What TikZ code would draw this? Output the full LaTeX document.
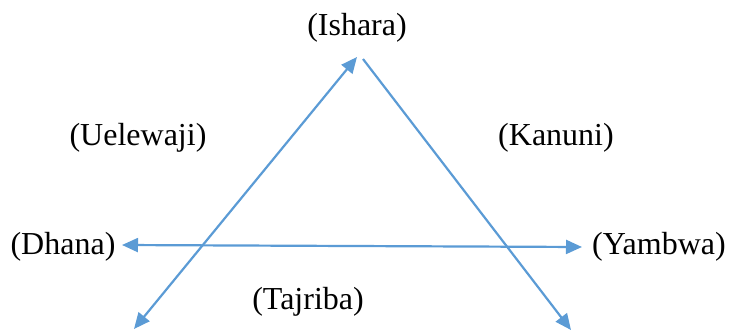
\documentclass[tikz,border=0pt]{standalone}
\usepackage{fontspec}
\setmainfont{Liberation Serif}
\usetikzlibrary{arrows.meta}
\definecolor{lineblue}{HTML}{5B9BD5}
\begin{document}
\begin{tikzpicture}[x=0.5pt,y=-0.5pt,
  lbl/.style={inner sep=0pt,font=\fontsize{16}{19}\selectfont},
  conn/.style={draw=lineblue,line width=1.1pt,arrows={-Triangle[length=8pt,width=7pt]}},
  conn2/.style={draw=lineblue,line width=1.1pt,arrows={Triangle[length=8pt,width=7pt]-Triangle[length=8pt,width=7pt]}}]
\useasboundingbox (0,0) rectangle (736,333);
\node[lbl] (ishara) at (357,28) {(Ishara)};
\node[lbl] (uelewaji) at (138,138) {(Uelewaji)};
\node[lbl] (kanuni) at (556,138) {(Kanuni)};
\node[lbl] (dhana) at (63,247) {(Dhana)};
\node[lbl] (yambwa) at (659,247) {(Yambwa)};
\node[lbl] (tajriba) at (308,302) {(Tajriba)};
\coordinate (a1) at (134,329);
\coordinate (a2) at (357,57);
\coordinate (b1) at (363,59);
\coordinate (b2) at (571,330);
\coordinate (c1) at (122,245);
\coordinate (c2) at (582,247);
\draw[conn2] (a1) -- (a2);
\draw[conn] (b1) -- (b2);
\draw[conn2] (c1) -- (c2);
\end{tikzpicture}
\end{document}
